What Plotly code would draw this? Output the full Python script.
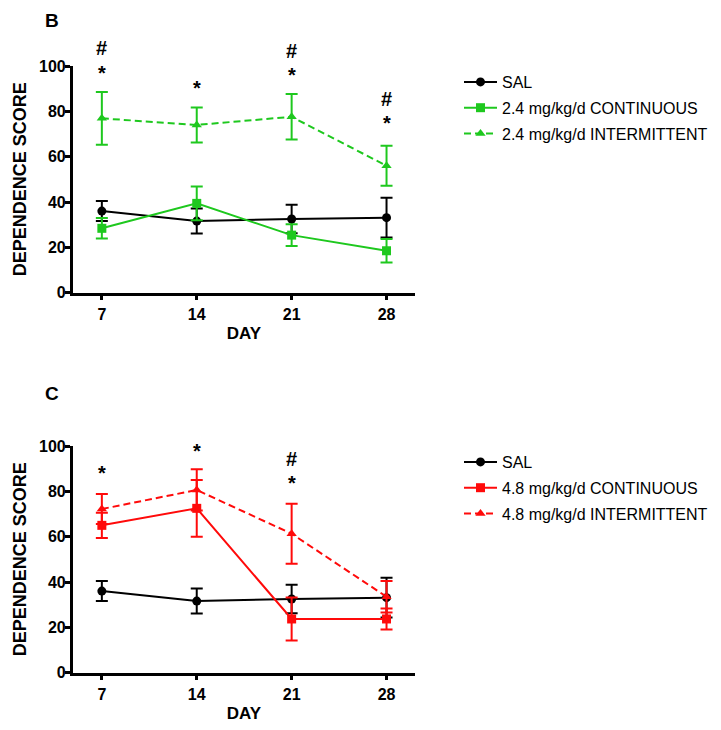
import plotly.graph_objects as go

days = [7, 14, 21, 28]

sal_mean = [36.0, 31.6, 32.5, 33.1]
sal_err = [4.4, 5.5, 6.3, 8.8]

cont24_mean = [28.4, 39.4, 25.4, 18.5]
cont24_err = [4.5, 7.4, 4.8, 5.2]
int24_mean = [76.9, 74.0, 77.6, 56.0]
int24_err = [11.6, 7.7, 10.0, 8.8]

cont48_mean = [65.0, 72.5, 23.7, 23.7]
cont48_err = [5.6, 12.5, 9.5, 4.6]
int48_mean = [72.2, 80.6, 61.3, 33.5]
int48_err = [6.6, 9.1, 13.2, 7.0]

# significance marks: (day, height on score scale, symbol)
marks_b = [(7, 107.8, "#"), (7, 97.1, "*"), (14, 90.5, "*"), (21, 106.7, "#"), (21, 96.1, "*"),
           (28, 85.3, "#"), (28, 74.8, "*")]
marks_c = [(7, 87.9, "*"), (14, 97.6, "*"), (21, 94.1, "#"), (21, 83.6, "*")]

GREEN = "#1ec81e"
RED = "#ff0a0a"
FONT = "Arial, Liberation Sans, sans-serif"

# page offset of the plot div (body margin)
OFF = 8
W, H = 721 - OFF, 730 - OFF


def px_x(p):
    return (p - OFF) / W


def px_y(p):
    return 1 - (p - OFF) / H


fig = go.Figure()


def add_series(name, y, err, color, symbol, dash, xa, ya, legend, group):
    fig.add_trace(go.Scatter(
        x=days, y=y, name=name, mode="lines+markers",
        line=dict(color=color, width=2, dash=dash),
        marker=dict(symbol=symbol, size=9, color=color),
        error_y=dict(type="data", array=err, visible=True, color=color,
                     thickness=2, width=6),
        xaxis=xa, yaxis=ya, legend=legend, legendgroup=group, cliponaxis=False,
    ))


add_series("SAL", sal_mean, sal_err, "black", "circle", "solid", "x", "y", "legend", "b1")
add_series("2.4 mg/kg/d CONTINUOUS", cont24_mean, cont24_err, GREEN, "square", "solid", "x", "y", "legend", "b2")
add_series("2.4 mg/kg/d INTERMITTENT", int24_mean, int24_err, GREEN, "triangle-up", "7px,4px", "x", "y", "legend", "b3")

add_series("SAL", sal_mean, sal_err, "black", "circle", "solid", "x2", "y2", "legend2", "c1")
add_series("4.8 mg/kg/d CONTINUOUS", cont48_mean, cont48_err, RED, "square", "solid", "x2", "y2", "legend2", "c2")
add_series("4.8 mg/kg/d INTERMITTENT", int48_mean, int48_err, RED, "triangle-up", "7px,4px", "x2", "y2", "legend2", "c3")

annotations = []
for (d, yv, s) in marks_b:
    annotations.append(dict(x=d, y=yv / 100, xref="x", yref="y domain", text=s, showarrow=False,
                            xanchor="center", yanchor="middle",
                            font=dict(family=FONT, size=20, color="black", weight="bold")))
for (d, yv, s) in marks_c:
    annotations.append(dict(x=d, y=yv / 100, xref="x2", yref="y2 domain", text=s, showarrow=False,
                            xanchor="center", yanchor="middle",
                            font=dict(family=FONT, size=20, color="black", weight="bold")))
annotations.append(dict(x=px_x(52), y=1, xref="paper", yref="paper", text="B",
                        showarrow=False, xanchor="center", yanchor="top",
                        font=dict(family=FONT, size=19, color="black", weight="bold")))
annotations.append(dict(x=px_x(52), y=px_y(393), xref="paper", yref="paper", text="C",
                        showarrow=False, xanchor="center", yanchor="middle",
                        font=dict(family=FONT, size=19, color="black", weight="bold")))

xcommon = dict(range=[4.85, 30.1], tickvals=days, ticktext=[str(d) for d in days],
               showline=True, linewidth=2.5, linecolor="black", ticks="outside",
               ticklen=5, tickwidth=2.5, tickcolor="black", showgrid=False, zeroline=False,
               tickfont=dict(family=FONT, size=16, color="black", weight="bold"),
               title=dict(text="DAY", font=dict(family=FONT, size=17, color="black", weight="bold"),
                          standoff=6),
               automargin=False, fixedrange=True)
ycommon = dict(range=[0, 100], tickvals=[0, 20, 40, 60, 80, 100],
               showline=True, linewidth=2.5, linecolor="black", ticks="outside",
               ticklen=5, tickwidth=2.5, tickcolor="black", showgrid=False, zeroline=False,
               ticklabelstandoff=-4,
               tickfont=dict(family=FONT, size=16, color="black", weight="bold"),
               title=dict(text="DEPENDENCE SCORE", font=dict(family=FONT, size=18, color="black", weight="bold"),
                          standoff=8),
               automargin=False, fixedrange=True)

xdom = [px_x(72.7), px_x(415)]
fig.update_layout(
    template="none",
    width=W, height=H,
    margin=dict(l=0, r=0, t=0, b=0),
    paper_bgcolor="white", plot_bgcolor="white",
    xaxis=dict(domain=xdom, anchor="y", **xcommon),
    yaxis=dict(domain=[px_y(292.7), px_y(66)], anchor="x", **ycommon),
    xaxis2=dict(domain=xdom, anchor="y2", **xcommon),
    yaxis2=dict(domain=[px_y(672.7), px_y(446)], anchor="x2", **ycommon),
    legend=dict(x=px_x(459), y=px_y(65), xanchor="left", yanchor="top",
                font=dict(family=FONT, size=16, color="black"), bgcolor="rgba(0,0,0,0)",
                traceorder="grouped", tracegroupgap=2, itemwidth=33),
    legend2=dict(x=px_x(459), y=px_y(445), xanchor="left", yanchor="top",
                 font=dict(family=FONT, size=16, color="black"), bgcolor="rgba(0,0,0,0)",
                 traceorder="grouped", tracegroupgap=2, itemwidth=33),
    annotations=annotations,
    showlegend=True,
)

fig.write_html("out.html")
